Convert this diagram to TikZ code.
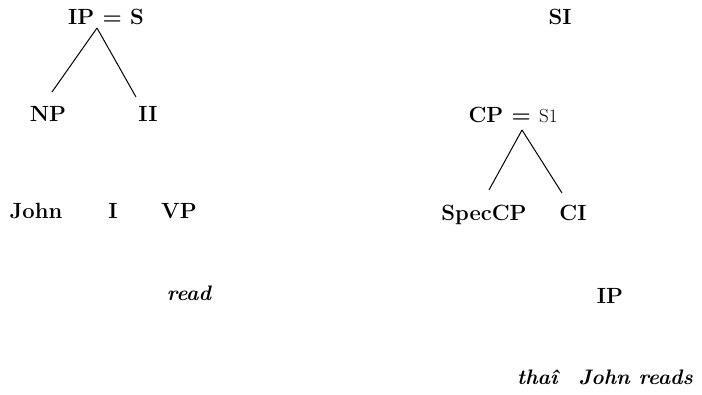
\documentclass[tikz,border=0pt]{standalone}
\usetikzlibrary{positioning,calc}
\definecolor{ink}{RGB}{0,0,0}
\tikzset{
  every picture/.style={color=ink, line width=1pt, x=1pt, y=-1pt},
  cat/.style={inner sep=0pt, text height=15pt, text depth=0pt, font=\fontsize{22}{26}\selectfont\bfseries},
  word/.style={cat, font=\fontsize{21}{25}\selectfont\bfseries\itshape},
  branch/.style={line width=1pt},
}
\begin{document}
\begin{tikzpicture}
  \useasboundingbox (0,0) rectangle (702,395);
  % left: IP tree
  \node[cat] (ips) at (106,17) {IP = S};
  \node[cat] (np) at (48,114) {NP};
  \node[cat] (ii) at (148,114) {II};
  \draw[branch] ([xshift=-9pt,yshift=-3pt]ips.south) -- ([xshift=4pt,yshift=14pt]np.north);
  \draw[branch] ([xshift=-9pt,yshift=-3pt]ips.south) -- ([xshift=-12pt,yshift=9pt]ii.north);
  \foreach \n/\x/\t in {john/36/John, i/113/I, vp/179/VP} { \node[cat] (\n) at (\x,211) {\t}; }
  \node[word] (read) at (189,293) {read};
  % right: CP tree
  \node[cat] (cps) at (513,115) {CP = {\mdseries\fontsize{19}{22}\selectfont S1}};
  \node[cat] (si) at (560,17) {SI};
  \node[cat] (spec) at (484,213) {SpecCP};
  \node[cat] (ci) at (573,213) {CI};
  \draw[branch] ([xshift=9pt,yshift=-7pt]cps.south) -- ([xshift=5pt,yshift=15pt]spec.north);
  \draw[branch] ([xshift=9pt,yshift=-7pt]cps.south) -- ([xshift=-11pt,yshift=12pt]ci.north);
  \node[cat] (ip) at (610,296) {IP};
  \node[word] (gloss) at (605,377) {tha\^{\i}\quad John reads};
\end{tikzpicture}
\end{document}
